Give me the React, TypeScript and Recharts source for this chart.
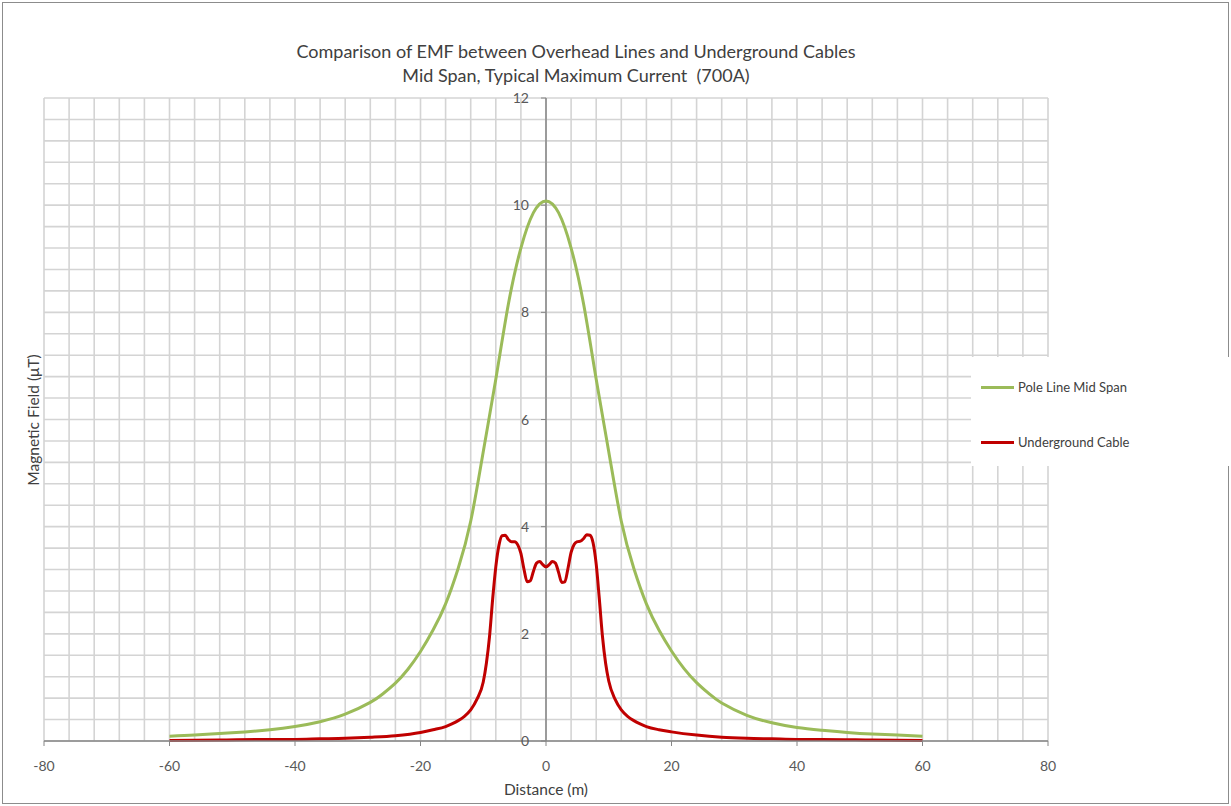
import React from 'react'
import {
  LineChart,
  Line,
  XAxis,
  YAxis,
  CartesianGrid,
  ReferenceLine,
  ReferenceDot,
} from 'recharts'

// distance (m) and field (uT)
const poleX = [-60, -56, -52, -48, -44, -40, -36, -32, -28, -26, -24, -22, -20, -18, -16, -14, -12, -10, -8, -6, -4, -2, 0,
  2, 4, 6, 8, 10, 12, 14, 16, 18, 20, 22, 24, 26, 28, 32, 36, 40, 44, 48, 52, 56, 60]
const poleField = [0.09, 0.11, 0.14, 0.17, 0.21, 0.27, 0.36, 0.5, 0.72, 0.88, 1.08, 1.34, 1.67, 2.07, 2.56, 3.22, 4.1, 5.4, 6.75, 8.15, 9.2, 9.86, 10.08,
  9.86, 9.2, 8.15, 6.75, 5.4, 4.1, 3.22, 2.56, 2.07, 1.68, 1.35, 1.09, 0.88, 0.71, 0.48, 0.34, 0.25, 0.2, 0.16, 0.13, 0.11, 0.09]

const cableX = [-60, -52, -44, -40, -36, -32, -28, -24, -20, -18, -16, -15, -14, -13, -12, -11, -10, -9.5, -9, -8.5, -8, -7.5, -7, -6.5, -6, -5.5, -5, -4.5, -4, -3.5, -3, -2.5, -2, -1.5, -1, -0.5, 0,
  0.5, 1, 1.5, 2, 2.5, 3, 3.5, 4, 4.5, 5, 5.5, 6, 6.5, 7, 7.5, 8, 8.5, 9, 9.5, 10, 11, 12, 13, 14, 15, 16, 18, 20, 24, 28, 32, 36, 40, 44, 52, 60]
const cableField = [0.01, 0.02, 0.03, 0.03, 0.04, 0.05, 0.07, 0.1, 0.16, 0.21, 0.27, 0.32, 0.38, 0.46, 0.58, 0.78, 1.1, 1.45, 1.95, 2.65, 3.25, 3.65, 3.83, 3.84, 3.76, 3.72, 3.72, 3.66, 3.5, 3.2, 2.97, 2.99, 3.17, 3.32, 3.35, 3.29, 3.25,
  3.29, 3.35, 3.32, 3.15, 2.96, 2.97, 3.22, 3.52, 3.67, 3.72, 3.73, 3.78, 3.85, 3.84, 3.7, 3.3, 2.65, 1.95, 1.45, 1.12, 0.78, 0.58, 0.46, 0.38, 0.32, 0.27, 0.21, 0.17, 0.11, 0.07, 0.05, 0.04, 0.03, 0.03, 0.02, 0.01]

const xTicks = [-80, -60, -40, -20, 0, 20, 40, 60, 80]
const yTicks = [0, 2, 4, 6, 8, 10, 12]
const xGrid = [-80, -76, -72, -68, -64, -60, -56, -52, -48, -44, -40, -36, -32, -28, -24, -20, -16, -12, -8, -4, 0,
  4, 8, 12, 16, 20, 24, 28, 32, 36, 40, 44, 48, 52, 56, 60, 64, 68, 72, 76, 80]
const yGrid = [0, 0.4, 0.8, 1.2, 1.6, 2, 2.4, 2.8, 3.2, 3.6, 4, 4.4, 4.8, 5.2, 5.6, 6, 6.4, 6.8, 7.2, 7.6, 8,
  8.4, 8.8, 9.2, 9.6, 10, 10.4, 10.8, 11.2, 11.6, 12]

const poleData = poleX.map((x, i) => ({ x, y: poleField[i] }))
const cableData = cableX.map((x, i) => ({ x, y: cableField[i] }))

const FONT = 'Lato, "Open Sans", sans-serif'
const TEXT = '#595959'
const AXIS = '#868686'
const GREEN = '#9BBB59'
const RED = '#C00000'

const YTickMark = (props: any) => {
  const { cx, cy, value } = props
  return (
    <g>
      <line x1={cx - 5} y1={cy} x2={cx} y2={cy} stroke={AXIS} />
      <text x={cx - 17} y={cy} dy={5} textAnchor="end" fill={TEXT} fontSize={14} fontFamily={FONT}>
        {value}
      </text>
    </g>
  )
}

export default function App() {
  return (
    <div style={{ position: 'absolute', left: 0, top: 0, width: 1231, height: 806, background: '#fff', fontFamily: FONT }}>
      <div style={{ position: 'absolute', left: 2, top: 2, width: 1227, height: 802, border: '1px solid #8c8c8c', boxSizing: 'border-box' }} />
      <LineChart width={1231} height={806} data={poleData} margin={{ top: 98, right: 183, bottom: 35, left: 44 }}>
        <CartesianGrid stroke="#d4d4d4" strokeWidth={1.6} horizontalValues={yGrid} verticalValues={xGrid} />
        <XAxis
          type="number"
          dataKey="x"
          domain={[-80, 80]}
          ticks={xTicks}
          interval={0}
          allowDataOverflow
          axisLine={{ stroke: AXIS, strokeWidth: 1.5 }}
          tickLine={{ stroke: AXIS }}
          tickSize={5}
          tick={{ fill: TEXT, fontSize: 14, fontFamily: FONT }}
          tickMargin={15}
        />
        <YAxis type="number" domain={[0, 12]} ticks={yTicks} interval={0} hide />
        <ReferenceLine x={0} stroke={AXIS} strokeWidth={1.5} />
        {yTicks.map((v) => (
          <ReferenceDot key={v} x={0} y={v} r={0} shape={(p: any) => <YTickMark {...p} value={v} />} />
        ))}
        <Line
          data={poleData}
          dataKey="y"
          name="Pole Line Mid Span"
          type="natural"
          stroke={GREEN}
          strokeWidth={3}
          dot={false}
          isAnimationActive={false}
        />
        <Line
          data={cableData}
          dataKey="y"
          name="Underground Cable"
          type="monotone"
          stroke={RED}
          strokeWidth={3}
          dot={false}
          isAnimationActive={false}
        />
      </LineChart>

      <div style={{ position: 'absolute', left: 0, top: 39, width: 1152, textAlign: 'center', color: '#404040', fontSize: 18, lineHeight: '24px' }}>
        <div>Comparison of EMF between Overhead Lines and Underground Cables</div>
        <div>Mid Span, Typical Maximum Current&nbsp; (700A)</div>
      </div>

      <div style={{ position: 'absolute', left: 33, top: 420, transform: 'translate(-50%, -50%) rotate(-90deg)', whiteSpace: 'nowrap', color: '#404040', fontSize: 15.5 }}>
        Magnetic Field (μT)
      </div>
      <div style={{ position: 'absolute', left: 546, top: 789, transform: 'translate(-50%, -50%)', whiteSpace: 'nowrap', color: '#404040', fontSize: 15.5 }}>
        Distance (m)
      </div>

      <div style={{ position: 'absolute', left: 971, top: 357, width: 258, height: 109, background: '#fff', fontSize: 13, color: '#404040' }}>
        {[
          { label: 'Pole Line Mid Span', color: GREEN, top: 30 },
          { label: 'Underground Cable', color: RED, top: 85 },
        ].map((item) => (
          <div key={item.label} style={{ position: 'absolute', left: 10, top: item.top - 8, height: 16, display: 'flex', alignItems: 'center' }}>
            <div style={{ width: 33, height: 3, background: item.color, marginRight: 4 }} />
            <span>{item.label}</span>
          </div>
        ))}
      </div>
    </div>
  )
}
